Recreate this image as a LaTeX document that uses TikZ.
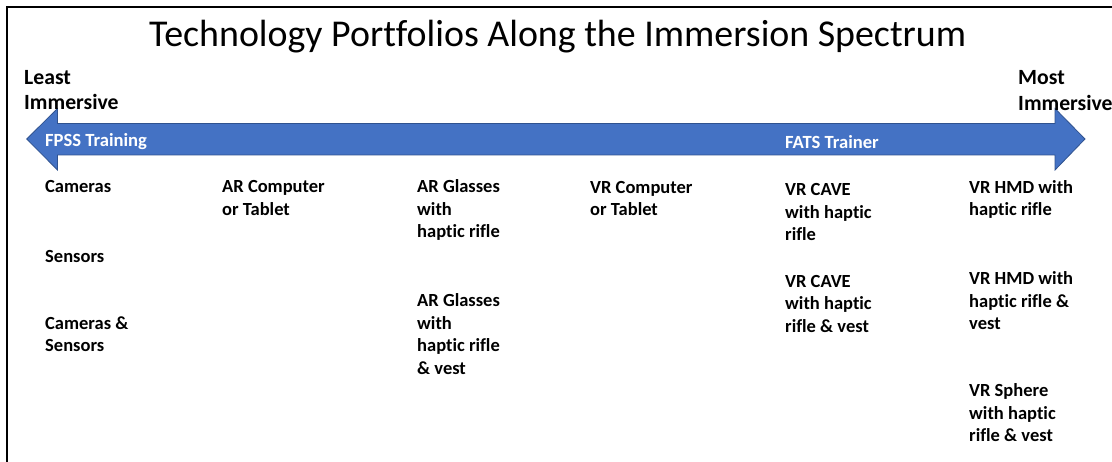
\documentclass[tikz,border=0pt]{standalone}
\usepackage{fontspec}
\setmainfont[Ligatures=NoCommon]{Carlito}
\begin{document}
\begin{tikzpicture}[x=1pt,y=-1pt,
  item/.style={anchor=base west,inner sep=0pt,align=left,font=\bfseries\fontsize{18.5}{22.5}\selectfont},
  endlabel/.style={anchor=base west,inner sep=0pt,align=left,font=\bfseries\fontsize{21.7}{25.5}\selectfont},
  arrowlabel/.style={anchor=base west,inner sep=0pt,text=white,font=\bfseries\fontsize{18.6}{22}\selectfont},
  spectrum/.style={fill=arrowblue,draw=arrowedge,line width=0.8pt,line join=miter}]
\definecolor{arrowblue}{HTML}{4472C4}
\definecolor{arrowedge}{HTML}{2F528F}
\useasboundingbox (0,0) rectangle (1112,462);
\fill[white] (0,0) rectangle (1112,462);
% frame
\draw[line width=2pt] (7,462) -- (7,7) -- (1112,7);
% title
\node[anchor=base west,inner sep=0pt,font=\fontsize{37.9}{44}\selectfont] (title) at (149,47) {Technology Portfolios Along the Immersion Spectrum};
% spectrum arrow
\draw[spectrum] (26.7,139) -- (57.5,108.5) -- (57.5,123.5) -- (1055,123.5) -- (1055,108.5) -- (1085,139)
  -- (1055,170) -- (1055,155) -- (57.5,155) -- (57.5,170) -- cycle;
\node[arrowlabel] (fpss) at (45,147) {FPSS Training};
\node[arrowlabel] (fats) at (785,149) {FATS Trainer};
% ends (base anchor = baseline of last line)
\node[endlabel] (least) at (24,110) {Least\\Immersive};
\node[endlabel] (most) at (1018,110.5) {Most\\Immersive};
% column 1
\node[item] (cam) at (45,193) {Cameras};
\node[item] (sens) at (45,263) {Sensors};
\node[item] (camsens) at (45,352) {Cameras \&\\Sensors};
% column 2
\node[item] (arct) at (222,215.5) {AR Computer\\or Tablet};
% column 3
\node[item] (arg1) at (417,238) {AR Glasses\\with\\haptic rifle};
\node[item] (arg2) at (417,374.5) {AR Glasses\\with\\haptic rifle\\\& vest};
% column 4
\node[item] (vrct) at (590,216) {VR Computer\\or Tablet};
% column 5
\node[item] (cave1) at (785,241) {VR CAVE\\with haptic\\rifle};
\node[item] (cave2) at (785,332.5) {VR CAVE\\with haptic\\rifle \& vest};
% column 6
\node[item] (hmd1) at (969,216) {VR HMD with\\haptic rifle};
\node[item] (hmd2) at (969,330) {VR HMD with\\haptic rifle \&\\vest};
\node[item] (sphere) at (969,442) {VR Sphere\\with haptic\\rifle \& vest};
\end{tikzpicture}
\end{document}
